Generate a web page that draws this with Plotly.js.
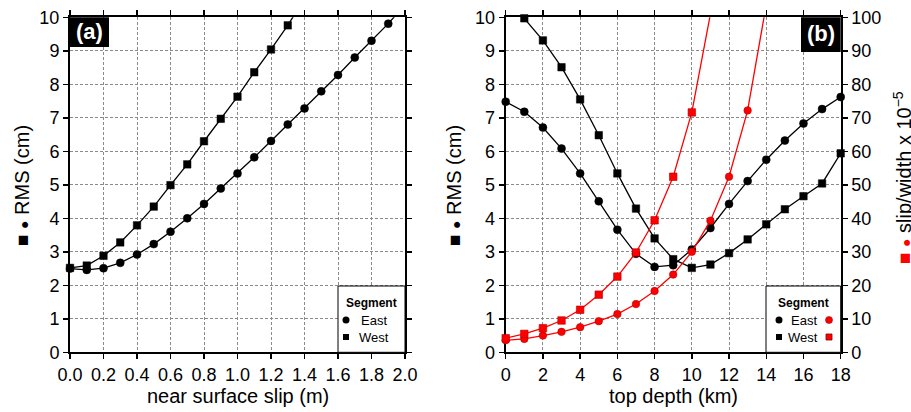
<!DOCTYPE html>
<html>
<head>
<meta charset="utf-8">
<script src="https://cdn.plot.ly/plotly-3.0.1.min.js"></script>
<style>html,body{margin:0;padding:0;background:#fff;}#chart{width:911px;height:412px;}</style>
</head>
<body>
<div id="chart"></div>
<script>
// ---- data ----
const slipA = [0.0,0.1,0.2,0.3,0.4,0.5,0.6,0.7,0.8,0.9,1.0,1.1,1.2,1.3,1.4,1.5,1.6,1.7,1.8,1.9,2.0];
const rmsEastA = [2.50,2.46,2.51,2.67,2.92,3.23,3.60,4.00,4.43,4.89,5.34,5.82,6.31,6.80,7.28,7.79,8.28,8.80,9.30,9.81,10.38];
const rmsWestA = [2.52,2.59,2.88,3.28,3.79,4.35,4.99,5.61,6.30,6.97,7.63,8.36,9.04,9.76,10.56];

const depthB = [0,1,2,3,4,5,6,7,8,9,10,11,12,13,14,15,16,17,18];
const rmsEastB = [7.48,7.18,6.71,6.08,5.34,4.51,3.66,2.94,2.55,2.60,3.07,3.71,4.43,5.11,5.75,6.32,6.83,7.26,7.62];
const rmsWestB = [10.62,9.97,9.31,8.51,7.55,6.48,5.34,4.29,3.40,2.78,2.52,2.62,2.96,3.37,3.82,4.27,4.66,5.04,5.94];
const swEastB = [3.6,4.0,5.0,6.1,7.5,9.3,11.4,14.4,18.3,23.2,30.0,39.3,52.4,72.2,103.8];
const swWestB = [4.2,5.5,7.2,9.5,12.7,17.2,22.6,29.8,39.4,52.4,71.6,101.0];

const xTicksA = ['0.0','0.2','0.4','0.6','0.8','1.0','1.2','1.4','1.6','1.8','2.0'];

// ---- helpers ----
const W = 911, H = 412;
const px = x => x / W;
const py = y => 1 - y / H;
const FONT = 'Liberation Sans, Arial, Helvetica, sans-serif';

function series(x, y, xa, ya, symbol, color, size, ymax) {
  const xs = x.slice(0, y.length);
  const isBlack = color === '#000000';
  return {
    x: xs, y: y, xaxis: xa, yaxis: ya, type: 'scatter', mode: 'lines+markers',
    line: {color: color, width: 1.3},
    marker: {symbol: symbol, color: color, opacity: 1,
             size: y.map(v => (v <= ymax ? size : 0)),
             line: {width: isBlack ? 0.5 : 0.6, color: isBlack ? '#000000' : '#b00000'}},
    cliponaxis: false, showlegend: false, hoverinfo: 'x+y'
  };
}

const traces = [
  series(slipA, rmsEastA, 'x', 'y', 'circle', '#000000', 8, 10),
  series(slipA, rmsWestA, 'x', 'y', 'square', '#000000', 7.5, 10),
  series(depthB, rmsEastB, 'x2', 'y2', 'circle', '#000000', 8, 10),
  series(depthB, rmsWestB, 'x2', 'y2', 'square', '#000000', 7.5, 10),
  series(depthB, swEastB, 'x2', 'y3', 'circle', '#ff0000', 7.5, 100),
  series(depthB, swWestB, 'x2', 'y3', 'square', '#ff0000', 7.5, 100)
];

const yDom = [py(352.3), py(17.3)];
const baseAxis = {
  showline: true, linecolor: 'black', linewidth: 2, mirror: 'ticks',
  ticks: 'outside', ticklen: 5, tickwidth: 1.5, tickcolor: 'black',
  showgrid: true, gridcolor: '#8a8a8a', gridwidth: 1, griddash: '3px,2px',
  zeroline: false, layer: 'below traces',
  tickfont: {family: FONT, size: 18, color: 'black'}
};

const glyphs = '<span style="font-size:19px">■</span> <span style="font-size:14px">●</span>';
const mk = (s) => glyphs + ' ' + s;

const layout = {
  width: W, height: H,
  margin: {l: 0, r: 0, t: 0, b: 0},
  paper_bgcolor: 'white', plot_bgcolor: 'white',
  font: {family: FONT, color: 'black'},
  showlegend: false,
  xaxis: Object.assign({}, baseAxis, {domain: [px(70), px(405)], anchor: 'y', range: [0, 2],
    tickvals: xTicksA.map(Number), ticktext: xTicksA}),
  yaxis: Object.assign({}, baseAxis, {domain: yDom, anchor: 'x', range: [0, 10], dtick: 1}),
  xaxis2: Object.assign({}, baseAxis, {domain: [px(505.7), px(840.7)], anchor: 'y2', range: [0, 18], dtick: 2}),
  yaxis2: Object.assign({}, baseAxis, {domain: yDom, anchor: 'x2', range: [0, 10], dtick: 1}),
  yaxis3: Object.assign({}, baseAxis, {overlaying: 'y2', anchor: 'x2', side: 'right', range: [0, 100], dtick: 10,
    showgrid: false, mirror: false}),
  shapes: [
    // panel labels
    {type: 'rect', xref: 'paper', yref: 'paper', x0: px(70), x1: px(109), y0: py(47), y1: py(17.3),
     fillcolor: 'black', line: {width: 0}},
    {type: 'rect', xref: 'paper', yref: 'paper', x0: px(801), x1: px(840.7), y0: py(52), y1: py(17.3),
     fillcolor: 'black', line: {width: 0}},
    // legend boxes
    {type: 'rect', xref: 'paper', yref: 'paper', x0: px(338), x1: px(405), y0: py(352.3), y1: py(286),
     fillcolor: 'white', line: {color: 'black', width: 1}},
    {type: 'rect', xref: 'paper', yref: 'paper', x0: px(766), x1: px(840.7), y0: py(352.3), y1: py(286),
     fillcolor: 'white', line: {color: 'black', width: 1}},
    // legend markers panel a
    {type: 'circle', xref: 'paper', yref: 'paper', x0: px(342.5), x1: px(349.5), y0: py(323.5), y1: py(316.5),
     fillcolor: 'black', line: {width: 0}},
    {type: 'rect', xref: 'paper', yref: 'paper', x0: px(343), x1: px(349), y0: py(340), y1: py(334),
     fillcolor: 'black', line: {width: 0}},
    // legend markers panel b
    {type: 'circle', xref: 'paper', yref: 'paper', x0: px(775.5), x1: px(782.5), y0: py(323.5), y1: py(316.5),
     fillcolor: 'black', line: {width: 0}},
    {type: 'rect', xref: 'paper', yref: 'paper', x0: px(776), x1: px(782), y0: py(340), y1: py(334),
     fillcolor: 'black', line: {width: 0}},
    {type: 'circle', xref: 'paper', yref: 'paper', x0: px(825.5), x1: px(832.5), y0: py(323.5), y1: py(316.5),
     fillcolor: '#ff0000', line: {width: 0.6, color: '#b00000'}},
    {type: 'rect', xref: 'paper', yref: 'paper', x0: px(826), x1: px(832), y0: py(340), y1: py(334),
     fillcolor: '#ff0000', line: {width: 0.8, color: '#800000'}}
  ],
  annotations: [
    {text: '<b>(a)</b>', xref: 'paper', yref: 'paper', x: px(89.5), y: py(32), xanchor: 'center', yanchor: 'middle',
     showarrow: false, font: {family: FONT, size: 22, color: 'white'}},
    {text: '<b>(b)</b>', xref: 'paper', yref: 'paper', x: px(821), y: py(34), xanchor: 'center', yanchor: 'middle',
     showarrow: false, font: {family: FONT, size: 22, color: 'white'}},
    // axis titles
    {text: 'near surface slip (m)', xref: 'paper', yref: 'paper', x: px(237.5), y: py(396), xanchor: 'center', yanchor: 'middle',
     showarrow: false, font: {family: FONT, size: 20}},
    {text: 'top depth (km)', xref: 'paper', yref: 'paper', x: px(673), y: py(396), xanchor: 'center', yanchor: 'middle',
     showarrow: false, font: {family: FONT, size: 20}},
    {text: mk('RMS (cm)'), xref: 'paper', yref: 'paper', x: px(22), y: py(186), xanchor: 'center', yanchor: 'middle',
     textangle: -90, showarrow: false, font: {family: FONT, size: 20}},
    {text: mk('RMS (cm)'), xref: 'paper', yref: 'paper', x: px(454), y: py(186), xanchor: 'center', yanchor: 'middle',
     textangle: -90, showarrow: false, font: {family: FONT, size: 20}},
    {text: '<span style="color:#ff0000">' + glyphs + '</span> slip/width x 10<sup>−5</sup>',
     xref: 'paper', yref: 'paper', x: px(902), y: py(178), xanchor: 'center', yanchor: 'middle',
     textangle: -90, showarrow: false, font: {family: FONT, size: 20}},
    // legend text
    {text: '<b>Segment</b>', xref: 'paper', yref: 'paper', x: px(371.5), y: py(303), xanchor: 'center', yanchor: 'middle',
     showarrow: false, font: {family: FONT, size: 12}},
    {text: 'East', xref: 'paper', yref: 'paper', x: px(359), y: py(320), xanchor: 'left', yanchor: 'middle',
     showarrow: false, font: {family: FONT, size: 13}},
    {text: 'West', xref: 'paper', yref: 'paper', x: px(357), y: py(337), xanchor: 'left', yanchor: 'middle',
     showarrow: false, font: {family: FONT, size: 13}},
    {text: '<b>Segment</b>', xref: 'paper', yref: 'paper', x: px(803.5), y: py(303), xanchor: 'center', yanchor: 'middle',
     showarrow: false, font: {family: FONT, size: 12}},
    {text: 'East', xref: 'paper', yref: 'paper', x: px(804), y: py(320), xanchor: 'center', yanchor: 'middle',
     showarrow: false, font: {family: FONT, size: 13}},
    {text: 'West', xref: 'paper', yref: 'paper', x: px(803), y: py(337), xanchor: 'center', yanchor: 'middle',
     showarrow: false, font: {family: FONT, size: 13}}
  ]
};

Plotly.newPlot('chart', traces, layout, {staticPlot: true, displayModeBar: false});
</script>
</body>
</html>
